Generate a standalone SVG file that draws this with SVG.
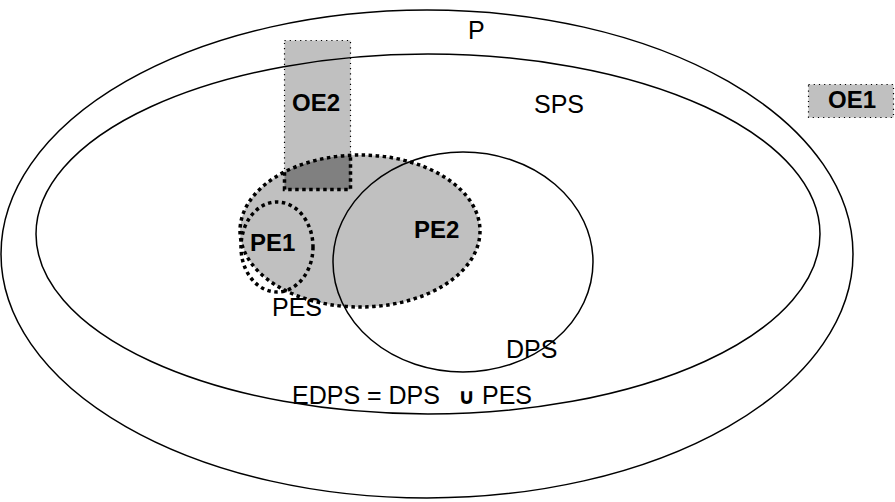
<svg xmlns="http://www.w3.org/2000/svg" width="895" height="502" viewBox="0 0 895 502">
<style>
.line{fill:none;stroke:#000;stroke-width:1.5}
.grey{fill:#c0c0c0}
.thick{fill:none;stroke:#000;stroke-width:3.5;stroke-dasharray:3.5 3.5}
.thin{stroke:#000;stroke-width:1.2;stroke-dasharray:1.2 4}
.t{font-family:"Liberation Sans",Arial,sans-serif;font-size:25px;fill:#000}
.b{font-family:"Liberation Sans",Arial,sans-serif;font-size:24px;font-weight:bold;fill:#000}
</style>
<rect width="895" height="502" fill="#fff"/>
<g id="P">
<ellipse class="line" cx="427" cy="254" rx="426" ry="244"/>
<text class="t" x="468" y="39">P</text>
</g>
<g id="OE2">
<rect class="grey thin" x="284.5" y="40.5" width="66" height="149"/>
</g>
<g id="SPS">
<ellipse class="line" cx="428" cy="234" rx="392" ry="180"/>
<text class="t" x="534" y="113">SPS</text>
</g>
<g id="PES">
<ellipse class="grey" cx="360" cy="231" rx="120" ry="76"/>
</g>
<g id="overlap">
<path d="M284.5,189.5 L284.5,172.2 A120,76 0 0,1 350.5,155.2 L350.5,189.5 Z" fill="#808080"/>
</g>
<g id="DPS">
<ellipse class="line" cx="463" cy="262" rx="130" ry="110"/>
<text class="t" x="506" y="358">DPS</text>
</g>
<g id="PES-outline">
<ellipse class="thick" cx="360" cy="231" rx="120" ry="76"/>
<path class="thick" d="M284.5,172.2 L284.5,189.5 L350.5,189.5 L350.5,155.2"/>
<text class="t" x="272" y="316">PES</text>
</g>
<g id="PE1">
<ellipse class="thick" cx="277" cy="247" rx="36" ry="45"/>
<text class="b" x="250" y="251">PE1</text>
</g>
<g id="PE2">
<text class="b" x="414" y="238">PE2</text>
</g>
<g id="OE2-label">
<text class="b" x="292" y="111">OE2</text>
</g>
<g id="OE1">
<rect class="grey thin" x="808.5" y="84.5" width="85" height="33"/>
<text class="b" x="828" y="108">OE1</text>
</g>
<g id="EDPS">
<text class="t" y="404"><tspan x="292">EDPS = DPS</tspan><tspan x="458" y="404" font-weight="bold" font-size="22" font-family="DejaVu Sans,sans-serif">∪</tspan><tspan x="482" y="404">PES</tspan></text>
</g>
</svg>
